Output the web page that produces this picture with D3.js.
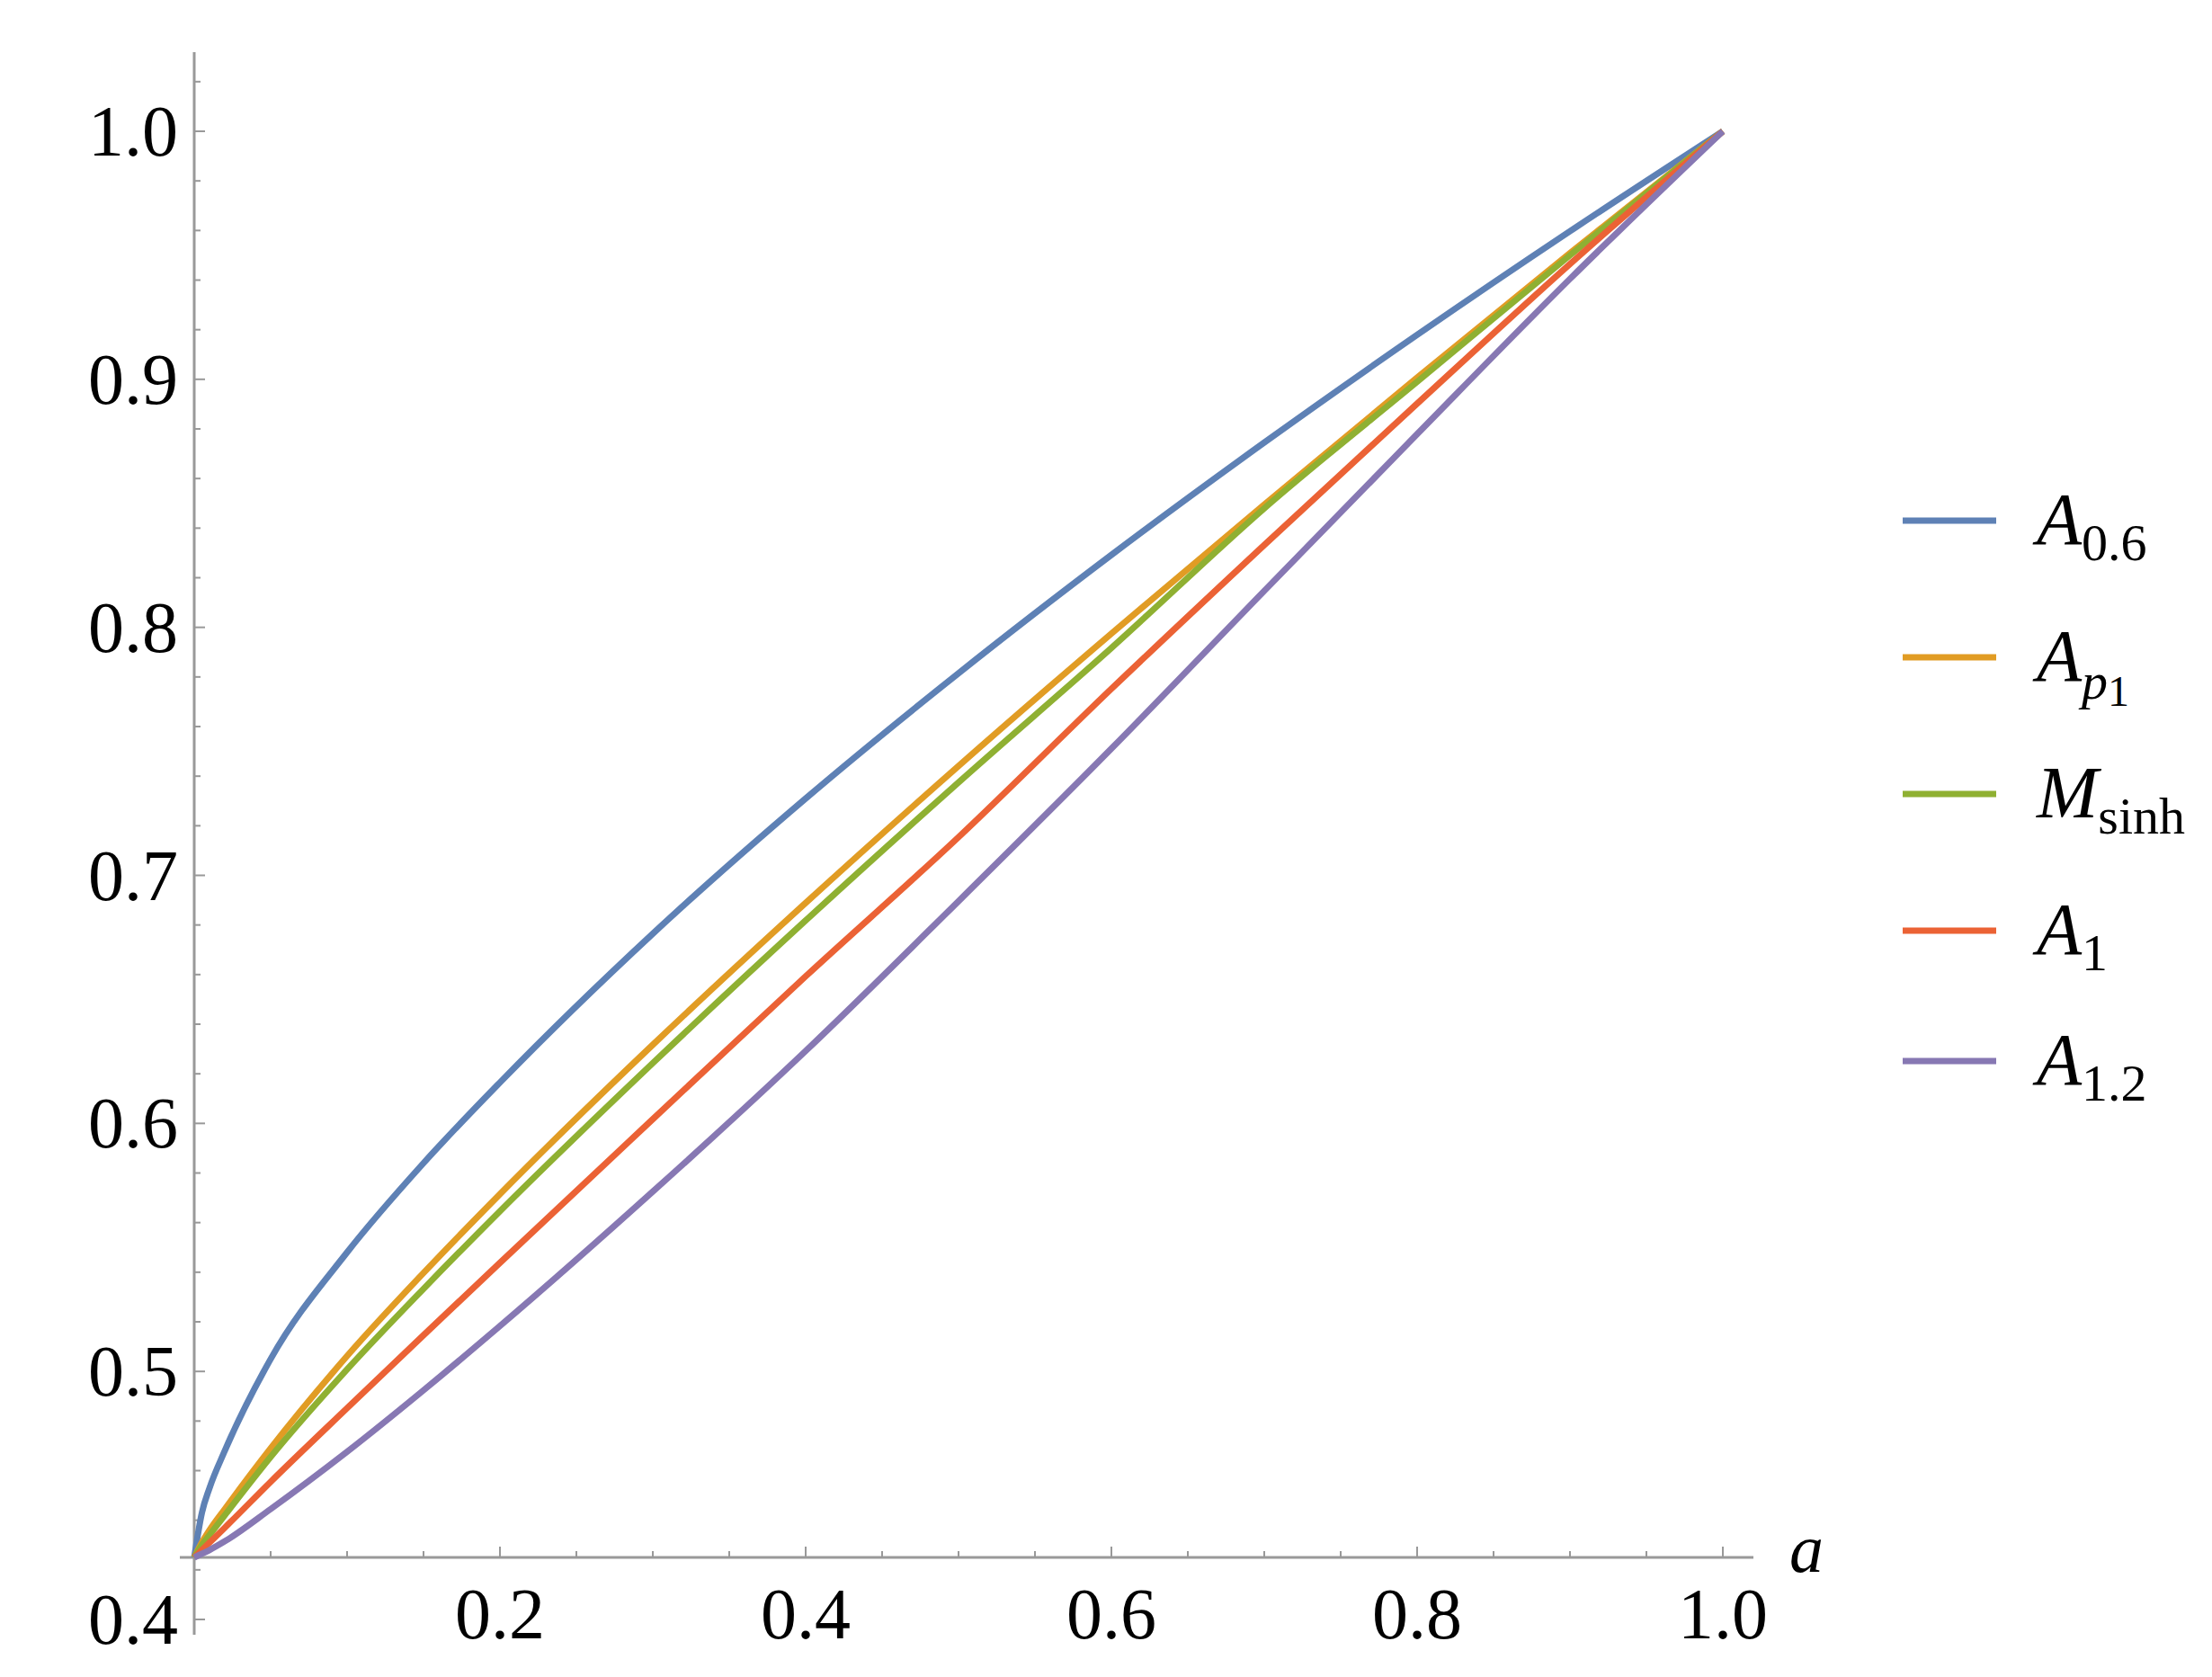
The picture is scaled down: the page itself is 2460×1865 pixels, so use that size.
<!DOCTYPE html>
<html>
<head>
<meta charset="utf-8">
<script src="https://cdn.jsdelivr.net/npm/d3@7"></script>
<style>
  body { margin: 0; background: #fff; }
  text { font-family: "Liberation Serif", "Times New Roman", "DejaVu Serif", serif; }
</style>
</head>
<body>
<div id="wrapper"></div>
<script>
// values
const aValues = [0, 0.005, 0.01, 0.02, 0.05, 0.1, 0.15, 0.2, 0.3, 0.4, 0.5, 0.6, 0.7, 0.8, 0.9, 1]
const a06   = [0.425, 0.443, 0.453, 0.468, 0.505, 0.548, 0.584, 0.6165, 0.6765, 0.7310, 0.7815, 0.8292, 0.8745, 0.9179, 0.9597, 1]
const ap1   = [0.425, 0.431, 0.436, 0.4445, 0.4690, 0.5062, 0.5397, 0.5715, 0.6317, 0.6889, 0.7441, 0.7975, 0.8495, 0.9007, 0.9509, 1]
const msinh = [0.425, 0.430, 0.434, 0.4420, 0.4655, 0.5008, 0.5333, 0.5646, 0.6243, 0.6818, 0.7375, 0.7917, 0.8480, 0.8990, 0.9500, 1]
const a1    = [0.425, 0.428, 0.431, 0.4370, 0.4555, 0.4852, 0.5146, 0.5438, 0.6017, 0.6593, 0.7154, 0.7752, 0.8332, 0.8902, 0.9465, 1]
const a12   = [0.425, 0.4265, 0.428, 0.4315, 0.4445, 0.4676, 0.4924, 0.5183, 0.5725, 0.6292, 0.6896, 0.7511, 0.8147, 0.8779, 0.9405, 1]

const seriesNames = [["A", "0.6", false], ["A", "p", "1"], ["M", "sinh", false], ["A", "1", false], ["A", "1.2", false]]
const seriesValues = [a06, ap1, msinh, a1, a12]
const colors = ["#5e81b5", "#e19c24", "#8fb032", "#eb6235", "#8778b3"]
const xTicks = [0.2, 0.4, 0.6, 0.8, 1.0]
const yTicks = [0.4, 0.5, 0.6, 0.7, 0.8, 0.9, 1.0]

const width = 2460, height = 1865
const axisColor = "#999"

const svg = d3.select("#wrapper").append("svg")
    .attr("width", width).attr("height", height)

const x = d3.scaleLinear().domain([0, 1]).range([216, 1916])
const y = d3.scaleLinear().domain([0.4, 1]).range([1801, 146])
const y0 = 0.425

// axes
svg.append("line").attr("x1", 200).attr("x2", 1950)
    .attr("y1", y(y0)).attr("y2", y(y0))
    .attr("stroke", axisColor).attr("stroke-width", 3)
svg.append("line").attr("x1", x(0)).attr("x2", x(0))
    .attr("y1", 58).attr("y2", 1818)
    .attr("stroke", axisColor).attr("stroke-width", 3)

// x ticks
d3.range(1, 21).map(i => i * 0.05).forEach((t, i) => {
  const major = (i + 1) % 4 === 0
  svg.append("line").attr("x1", x(t)).attr("x2", x(t))
      .attr("y1", y(y0)).attr("y2", y(y0) - (major ? 12 : 7))
      .attr("stroke", axisColor).attr("stroke-width", 2)
})
svg.selectAll(".xlab").data(xTicks).enter().append("text")
    .attr("x", d => x(d)).attr("y", 1822)
    .attr("text-anchor", "middle").attr("font-size", 80)
    .text(d => d.toFixed(1))

// y ticks
d3.range(0, 32).map(i => 0.4 + i * 0.02).filter(t => t <= 1.031).forEach((t, i) => {
  const major = i % 5 === 0
  svg.append("line").attr("x1", x(0)).attr("x2", x(0) + (major ? 12 : 7))
      .attr("y1", y(t)).attr("y2", y(t))
      .attr("stroke", axisColor).attr("stroke-width", 2)
})
svg.selectAll(".ylab").data(yTicks).enter().append("text")
    .attr("x", 198).attr("y", d => y(d) + 27)
    .attr("text-anchor", "end").attr("font-size", 80)
    .text(d => d.toFixed(1))

svg.append("text").attr("x", 1990).attr("y", 1748)
    .attr("font-size", 76).attr("font-style", "italic").text("a")

// curves
const line = d3.line()
    .x((d, i) => x(aValues[i]))
    .y(d => y(d))
    .curve(d3.curveMonotoneX)

seriesValues.forEach((vals, i) => {
  svg.append("path").datum(vals)
      .attr("d", line)
      .attr("fill", "none")
      .attr("stroke", colors[i])
      .attr("stroke-width", 7)
})

// legend
const legendY = [579, 731, 883, 1035, 1180]
seriesNames.forEach((n, i) => {
  const ly = legendY[i]
  svg.append("line").attr("x1", 2116).attr("x2", 2220)
      .attr("y1", ly).attr("y2", ly)
      .attr("stroke", colors[i]).attr("stroke-width", 7)
  const t = svg.append("text").attr("x", 2265).attr("y", ly + 26).attr("font-size", 82)
  t.append("tspan").attr("font-style", "italic").text(n[0])
  if (n[2]) {
    t.append("tspan").attr("font-style", "italic").attr("font-size", 58).attr("dy", 20).text(n[1])
    t.append("tspan").attr("font-size", 48).attr("dy", 8).text(n[2])
  } else {
    t.append("tspan").attr("font-size", 58).attr("dy", 18).text(n[1])
  }
})
</script>
</body>
</html>
